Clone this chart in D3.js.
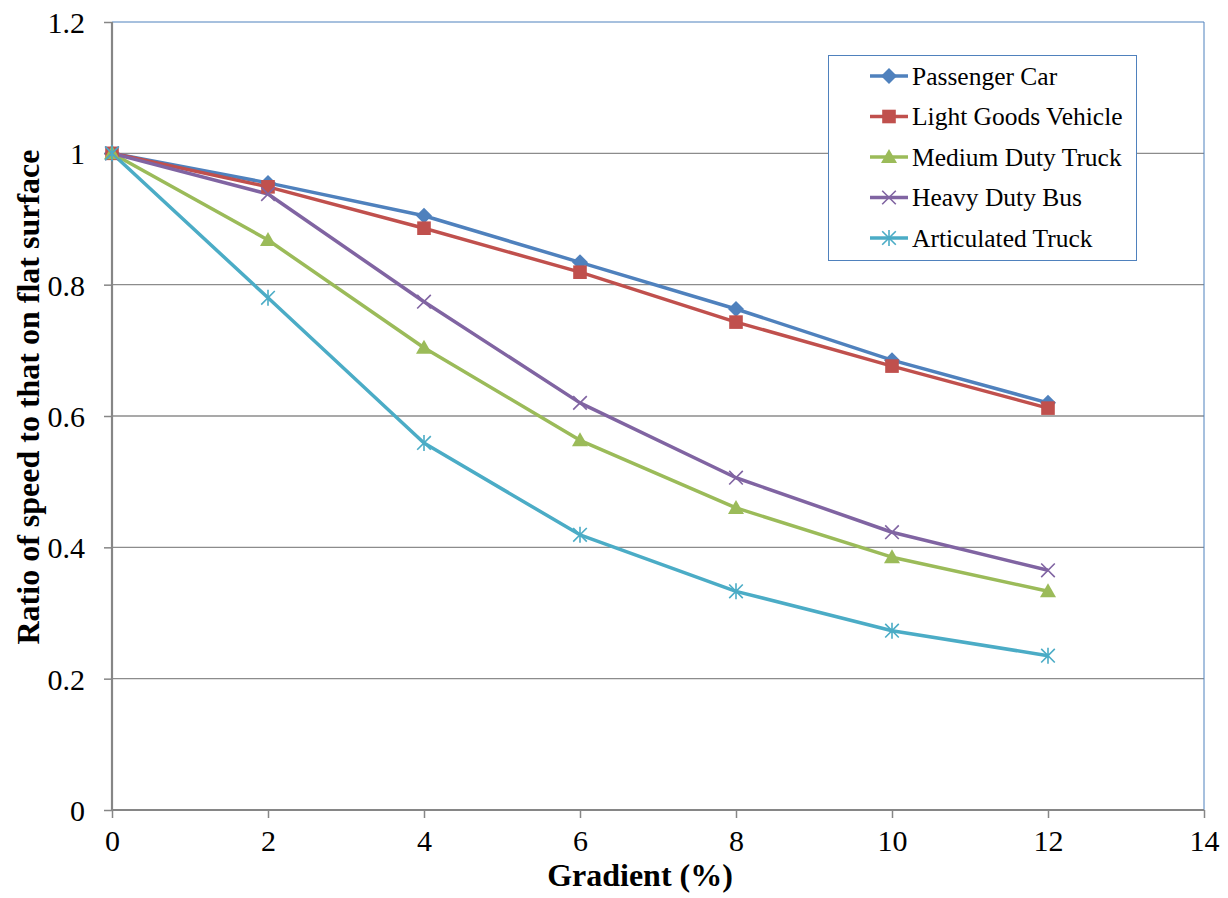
<!DOCTYPE html>
<html><head><meta charset="utf-8">
<script src="https://cdn.jsdelivr.net/npm/d3@7"></script>
<style>body{margin:0;background:#fff}svg{display:block}</style>
</head><body>
<script>
const gradients = [0, 2, 4, 6, 8, 10, 12];
const seriesNames = ["Passenger Car", "Light Goods Vehicle", "Medium Duty Truck", "Heavy Duty Bus", "Articulated Truck"];
const passengerCar = [1, 0.955, 0.905, 0.834, 0.763, 0.685, 0.620];
const lightGoods = [1, 0.949, 0.886, 0.819, 0.743, 0.676, 0.612];
const mediumTruck = [1, 0.868, 0.704, 0.563, 0.460, 0.385, 0.333];
const heavyBus = [1, 0.938, 0.774, 0.620, 0.506, 0.423, 0.365];
const articulated = [1, 0.780, 0.559, 0.419, 0.333, 0.273, 0.235];
const xTicks = [0, 2, 4, 6, 8, 10, 12, 14];
const yTicks = [0, 0.2, 0.4, 0.6, 0.8, 1, 1.2];
const colors = ["#4F81BD", "#C0504D", "#9BBB59", "#8064A2", "#4BACC6"];
const markers = ["diamond", "square", "triangle", "x", "star"];
const allValues = [passengerCar, lightGoods, mediumTruck, heavyBus, articulated];

const W = 1228, H = 898;
const svg = d3.select("body").append("svg").attr("width", W).attr("height", H);
const x = d3.scaleLinear().domain([0, 14]).range([112, 1204]);
const y = d3.scaleLinear().domain([0, 1.2]).range([810, 22]);
const font = "'Liberation Serif', 'Times New Roman', serif";

// gridlines
svg.append("g").selectAll("line").data(yTicks.filter(d => d > 0 && d < 1.2)).join("line")
  .attr("x1", x(0)).attr("x2", x(14)).attr("y1", d => y(d)).attr("y2", d => y(d))
  .attr("stroke", "#8c8c8c").attr("stroke-width", 1.3);

// plot border (top/right)
svg.append("path")
  .attr("d", `M${x(0)},${y(1.2)}H${x(14)}V${y(0)}`)
  .attr("fill", "none").attr("stroke", "#4F81BD").attr("stroke-width", 1);

// axes
const xAxis = d3.axisBottom(x).tickValues(xTicks).tickSize(8).tickPadding(12).tickFormat(d3.format("d"));
const gx = svg.append("g").attr("transform", `translate(0,${y(0)})`).call(xAxis);
const yAxis = d3.axisLeft(y).tickValues(yTicks).tickSize(8).tickPadding(19).tickFormat(d => d === 0 ? "0" : d === 1 ? "1" : d3.format(".1f")(d));
const gy = svg.append("g").attr("transform", `translate(${x(0)},0)`).call(yAxis);
[gx, gy].forEach(g => {
  g.selectAll("path.domain").attr("stroke", "#868686").attr("stroke-width", 2.2);
  g.selectAll(".tick line").attr("stroke", "#868686").attr("stroke-width", 1.5);
  g.selectAll("text").attr("font-family", font).attr("font-size", 30).attr("fill", "#000");
});
gx.select("path.domain").attr("d", `M${x(0)},0H${x(14)}`);
gy.select("path.domain").attr("d", `M0,${y(0)}V${y(1.2)}`);
gy.selectAll(".tick text").attr("dy", "0.35em");

// axis titles
svg.append("text").attr("x", 640).attr("y", 886).attr("text-anchor", "middle")
  .attr("font-family", font).attr("font-weight", "bold").attr("font-size", 32).text("Gradient (%)");
svg.append("text").attr("transform", `translate(39,${397}) rotate(-90)`).attr("text-anchor", "middle")
  .attr("font-family", font).attr("font-weight", "bold").attr("font-size", 32).text("Ratio of speed to that on flat surface");

function drawMarker(g, type, color, s) {
  if (type === "diamond") {
    g.append("path").attr("d", `M0,${-s}L${s},0L0,${s}L${-s},0Z`).attr("fill", color);
  } else if (type === "square") {
    g.append("rect").attr("x", -s * 0.85).attr("y", -s * 0.85).attr("width", s * 1.7).attr("height", s * 1.7).attr("fill", color);
  } else if (type === "triangle") {
    g.append("path").attr("d", `M0,${-s}L${s},${s * 0.75}L${-s},${s * 0.75}Z`).attr("fill", color);
  } else if (type === "x") {
    g.append("path").attr("d", `M${-s * 0.85},${-s * 0.85}L${s * 0.85},${s * 0.85}M${-s * 0.85},${s * 0.85}L${s * 0.85},${-s * 0.85}`).attr("stroke", color).attr("stroke-width", 1.6);
  } else if (type === "star") {
    g.append("path").attr("d", `M${-s * 0.85},${-s * 0.85}L${s * 0.85},${s * 0.85}M${-s * 0.85},${s * 0.85}L${s * 0.85},${-s * 0.85}M0,${-s}V${s}`).attr("stroke", color).attr("stroke-width", 1.6);
  }
}

const line = d3.line().x(d => x(d[0])).y(d => y(d[1]));
allValues.forEach((vals, i) => {
  const pts = gradients.map((g, j) => [g, vals[j]]);
  svg.append("path").datum(pts).attr("d", line).attr("fill", "none")
    .attr("stroke", colors[i]).attr("stroke-width", 3.5).attr("stroke-linejoin", "round");
});
allValues.forEach((vals, i) => {
  gradients.forEach((g, j) => {
    const m = svg.append("g").attr("transform", `translate(${x(g)},${y(vals[j])})`);
    drawMarker(m, markers[i], colors[i], 8);
  });
});

// legend
const leg = svg.append("g");
leg.append("rect").attr("x", 828.5).attr("y", 55.5).attr("width", 308).attr("height", 205)
  .attr("fill", "#fff").attr("stroke", "#4F81BD").attr("stroke-width", 1);
seriesNames.forEach((name, i) => {
  const ly = 76 + i * 40.5;
  leg.append("line").attr("x1", 870).attr("x2", 908).attr("y1", ly).attr("y2", ly)
    .attr("stroke", colors[i]).attr("stroke-width", 3.5);
  const m = leg.append("g").attr("transform", `translate(889,${ly})`);
  drawMarker(m, markers[i], colors[i], 8);
  leg.append("text").attr("x", 912).attr("y", ly).attr("dy", "0.35em")
    .attr("font-family", font).attr("font-size", 25.5).text(name);
});
</script>
</body></html>
